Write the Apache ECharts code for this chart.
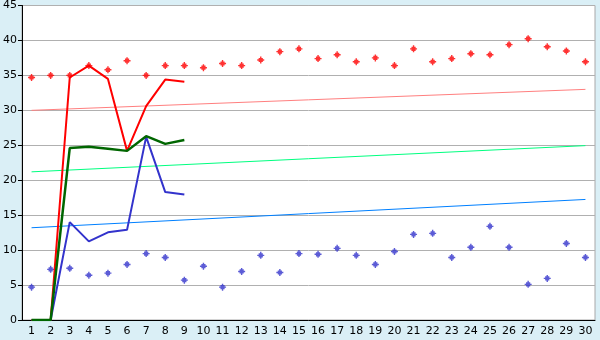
<!DOCTYPE html>
<html><head><meta charset="utf-8">
<style>html,body{margin:0;padding:0;background:#daeff6;}#c{width:600px;height:340px;}</style>
<script src="https://cdn.jsdelivr.net/npm/echarts@6/dist/echarts.min.js"></script>
</head><body><div id="c"></div>
<script>
var categories = ['1','2','3','4','5','6','7','8','9','10','11','12','13','14','15','16','17','18','19','20','21','22','23','24','25','26','27','28','29','30'];
var yTicks = [0,5,10,15,20,25,30,35,40,45];
var redPoints = [34.7,35.0,35.0,36.4,35.8,37.1,35.0,36.4,36.4,36.1,36.7,36.4,37.2,38.4,38.8,37.4,37.95,36.95,37.5,36.4,38.8,36.95,37.4,38.1,37.95,39.4,40.25,39.1,38.5,36.95];
var bluePoints = [4.7,7.25,7.4,6.4,6.7,7.95,9.5,8.95,5.7,7.7,4.7,6.95,9.25,6.8,9.5,9.4,10.25,9.25,7.95,9.8,12.25,12.4,8.95,10.4,13.4,10.4,5.1,5.95,10.95,8.95];
var redLine = [0,0,34.7,36.4,34.5,24.2,30.6,34.4,34.1];
var greenLine = [0,0,24.6,24.8,24.5,24.2,26.3,25.2,25.75];
var blueLine = [0,0,14.0,11.25,12.55,12.9,26.2,18.3,17.95];
var redTrend = [30.0, 33.0];
var greenTrend = [21.2, 24.95];
var blueTrend = [13.2, 17.25];

var chart = echarts.init(document.getElementById('c'));
var diamond = 'path://M2,0H3V1H4V2H5V3H4V4H3V5H2V4H1V3H0V2H1V1H2Z';
function trend(vals, color){
  return {type:'line', data:[[0, vals[0]],[categories.length-1, vals[1]]], symbol:'none', silent:true,
    lineStyle:{color:color, width:1}, animation:false};
}
chart.setOption({
  backgroundColor:'#daeff6',
  animation:false,
  grid:{left:20, right:5, top:5, bottom:20, show:true, backgroundColor:'#ffffff', borderColor:'#a8a8a8', borderWidth:1},
  xAxis:{type:'category', data:categories, boundaryGap:true,
    axisLine:{lineStyle:{color:'#000', width:1}},
    axisTick:{alignWithLabel:true, length:5, lineStyle:{color:'#000'}},
    axisLabel:{color:'#000', fontFamily:'DejaVu Sans', fontSize:11, margin:6, interval:0},
    splitLine:{show:false}},
  yAxis:{type:'value', min:0, max:45, interval:5,
    axisLine:{show:true, lineStyle:{color:'#000', width:1}},
    axisTick:{show:true, length:4, lineStyle:{color:'#000'}},
    axisLabel:{color:'#000', fontFamily:'DejaVu Sans', fontSize:11, margin:5,
      formatter:function(v){return yTicks.indexOf(v)>=0 ? String(v) : '';}},
    splitLine:{lineStyle:{color:'#b0b0b0', width:1}}},
  series:[
    trend(redTrend,'#ff7f7f'),
    trend(greenTrend,'#00ff80'),
    trend(blueTrend,'#0080ff'),
    {type:'scatter', data:redPoints, symbol:diamond, symbolSize:7, itemStyle:{color:'#ff0000'}},
    {type:'scatter', data:bluePoints, symbol:diamond, symbolSize:7, itemStyle:{color:'#3333cc'}},
    {type:'line', data:blueLine, symbol:'none', lineStyle:{color:'#3333cc', width:2}},
    {type:'line', data:redLine, symbol:'none', lineStyle:{color:'#ff0000', width:2}},
    {type:'line', data:greenLine, symbol:'none', lineStyle:{color:'#006600', width:2.5}}
  ]
});
</script></body></html>
